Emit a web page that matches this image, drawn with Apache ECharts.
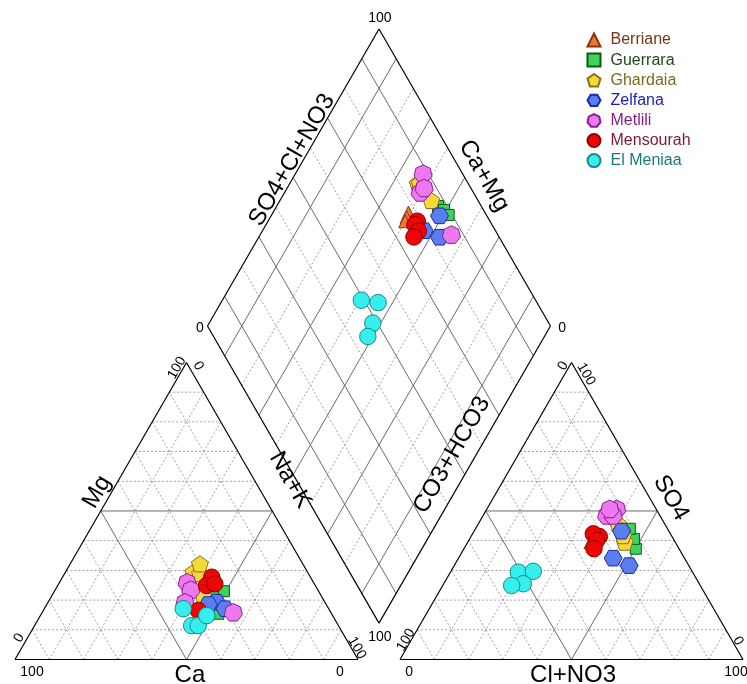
<!DOCTYPE html>
<html><head><meta charset="utf-8">
<script src="https://cdn.jsdelivr.net/npm/echarts@6/dist/echarts.min.js"></script>
<style>html,body{margin:0;padding:0;background:#fff}#c{width:747px;height:684px}</style>
</head><body><div id="c"></div>
<script>
// Site names (legend order)
const sites = ['Berriane', 'Guerrara', 'Ghardaia', 'Zelfana', 'Metlili', 'Mensourah', 'El Meniaa'];
// Each row: [Ca, Mg, Na+K, CO3+HCO3, SO4, Cl+NO3]  (% meq/L)
const berriane = [
  [36.0, 24.5, 39.5, 22.3, 41.5, 36.2],
  [36.5, 23.8, 39.7, 23.6, 40.5, 35.9],
  [37.0, 23.0, 40.0, 24.7, 39.5, 35.8]
];
const guerrara = [
  [31.5, 21.5, 47.0, 12.6, 37.3, 50.1],
  [27.6, 23.0, 49.4, 11.5, 40.6, 47.9],
  [33.0, 15.4, 51.6, 11.0, 44.0, 45.0]
];
const ghardaia = [
  [33.3, 29.4, 37.3, 14.7, 39.5, 45.8],
  [31.6, 28.9, 39.5, 13.6, 45.7, 40.7],
  [34.4, 21.5, 44.1, 13.6, 43.4, 43.0],
  [30.0, 32.2, 37.8, 14.1, 41.7, 44.2]
];
const zelfana = [
  [31.6, 19.3, 49.1, 13.8, 43.2, 43.0],
  [34.4, 18.5, 47.1, 20.8, 34.1, 45.1],
  [30.2, 17.1, 52.7, 17.4, 31.6, 51.0]
];
const metlili = [
  [36.8, 26.0, 37.2, 11.5, 50.7, 37.8],
  [37.0, 23.5, 39.5, 15.5, 48.5, 36.0],
  [40.8, 19.3, 39.9, 13.6, 48.5, 37.9],
  [28.4, 15.9, 55.7, 13.5, 50.7, 35.8]
];
const mensourah = [
  [28.8, 27.7, 43.5, 21.2, 41.4, 37.4],
  [31.7, 24.9, 43.4, 22.5, 42.3, 35.2],
  [29.0, 25.5, 45.5, 22.6, 40.1, 37.3],
  [38.3, 16.5, 45.2, 24.8, 37.3, 37.9]
];
const elMeniaa = [
  [42.4, 17.1, 40.5, 50.8, 29.4, 19.8],
  [42.8, 11.4, 45.8, 46.3, 29.7, 24.0],
  [40.9, 11.4, 47.7, 51.3, 25.5, 23.2],
  [36.7, 14.8, 48.5, 55.0, 24.9, 20.1]
];
const siteData = [berriane, guerrara, ghardaia, zelfana, metlili, mensourah, elMeniaa];
// Axis tick labels and axis titles
const tickLo = '0';
const tickHi = '100';
const axisTitles = ['Ca', 'Mg', 'Na+K', 'Cl+NO3', 'CO3+HCO3', 'SO4', 'SO4+Cl+NO3', 'Ca+Mg'];

// ---- geometry (Piper layout) ----
const S = 100, GAP = 12.24, R3 = Math.sqrt(3) / 2;
const H0 = GAP * R3;
const W = 2 * S + GAP, H = H0 + 2 * S * R3;
function cat(ca, mg, nak) { return [nak + mg / 2, mg * R3]; }
function an(hco3, so4, cl) { return [S + GAP + cl + so4 / 2, so4 * R3]; }
function dia(camg, so4cl) { return [S + GAP / 2 + (so4cl - camg) / 2, H0 + R3 * (camg + so4cl)]; }

// styles
const styles = [
  { symbol: 'triangle', size: 13, fill: '#f2762e', border: '#8a3410', text: '#7a3418' },
  { symbol: 'rect', size: 11, fill: '#3dd35c', border: '#0b5a14', text: '#1c4a1c' },
  { symbol: 'path://M0,-10 L9.51,-3.09 L5.88,8.09 L-5.88,8.09 L-9.51,-3.09 Z', size: 17, fill: '#f6d83a', border: '#8a7212', text: '#7a6a1e' },
  { symbol: 'path://M10,0 L5,8.66 L-5,8.66 L-10,0 L-5,-8.66 L5,-8.66 Z', size: 18, fill: '#5a7ef0', border: '#1a2aa8', text: '#1c1cb4' },
  { symbol: 'path://M0,-10 L7.82,-6.23 L9.75,2.23 L4.34,9.01 L-4.34,9.01 L-9.75,2.23 L-7.82,-6.23 Z', size: 18, fill: '#ee78ee', border: '#8a1c9a', text: '#8a1c8a' },
  { symbol: 'circle', size: 16.5, fill: '#ee0505', border: '#8a0000', text: '#7a1a2a' },
  { symbol: 'circle', size: 16.5, fill: '#36eeee', border: '#178a8a', text: '#1a7a7a' }
];

// ---- grid line segments ----
const outer = [], solid = [], dashed = [];
function seg(arr, a, b) { arr.push([a[0], a[1], b[0], b[1]]); }
// left triangle
seg(outer, cat(100, 0, 0), cat(0, 0, 100));
seg(outer, cat(100, 0, 0), cat(0, 100, 0));
seg(outer, cat(0, 100, 0), cat(0, 0, 100));
// right triangle
seg(outer, an(100, 0, 0), an(0, 0, 100));
seg(outer, an(100, 0, 0), an(0, 100, 0));
seg(outer, an(0, 100, 0), an(0, 0, 100));
// diamond
seg(outer, dia(0, 0), dia(100, 0));
seg(outer, dia(100, 0), dia(100, 100));
seg(outer, dia(100, 100), dia(0, 100));
seg(outer, dia(0, 100), dia(0, 0));
for (let k = 10; k < 100; k += 10) {
  const tgt = k === 50 ? solid : dashed;
  // cation
  seg(tgt, cat(100 - k, k, 0), cat(0, k, 100 - k));
  seg(tgt, cat(100 - k, 0, k), cat(0, 100 - k, k));
  seg(tgt, cat(k, 0, 100 - k), cat(k, 100 - k, 0));
  // anion
  seg(tgt, an(100 - k, k, 0), an(0, k, 100 - k));
  seg(tgt, an(100 - k, 0, k), an(0, 100 - k, k));
  seg(tgt, an(k, 0, 100 - k), an(k, 100 - k, 0));
  // diamond
  const dt = (k / 10) % 2 === 1 ? solid : dashed;
  seg(dt, dia(k, 0), dia(k, 100));
  seg(dt, dia(0, k), dia(100, k));
}

function segSeries(data, style) {
  return {
    type: 'custom', silent: true, clip: false, z: 1, animation: false,
    data: data,
    renderItem: function (params, api) {
      const p1 = api.coord([api.value(0), api.value(1)]);
      const p2 = api.coord([api.value(2), api.value(3)]);
      return { type: 'line', shape: { x1: p1[0], y1: p1[1], x2: p2[0], y2: p2[1] }, style: style };
    }
  };
}

// ---- text labels: [x, y, rotationDeg, fontSize, text] ----
const texts = [
  [4.96, -3.6, 0, 14, tickHi], [94.75, -3.6, 0, 14, tickLo], [51.0, -4.6, 0, 24, axisTitles[0]],
  [1.2, 6.3, 60, 14, tickLo], [47.2, 85.0, 60, 14, tickHi], [23.9, 48.8, 60, 24, axisTitles[1]],
  [53.4, 85.6, -60, 14, tickLo], [99.7, 3.4, -60, 14, tickHi], [80.2, 52.3, -60, 24, axisTitles[2]],
  [114.9, -3.6, 0, 14, tickLo], [210.2, -3.6, 0, 14, tickHi], [162.7, -4.6, 0, 24, axisTitles[3]],
  [114.0, 5.7, 60, 14, tickHi], [159.8, 85.6, 60, 14, tickLo], [127.4, 59.6, 60, 24, axisTitles[4]],
  [166.5, 83.2, -60, 14, tickHi], [210.8, 5.4, -60, 14, tickLo], [191.25, 47.1, -60, 24, axisTitles[5]],
  [106.4, 187.0, 0, 14, tickHi], [53.9, 96.6, 0, 14, tickLo], [159.5, 96.6, 0, 14, tickLo], [106.4, 6.6, 0, 14, tickHi],
  [80.8, 145.6, 60, 24, axisTitles[6]], [136.7, 141.0, -60, 24, axisTitles[7]]
];
const textSeries = {
  type: 'custom', silent: true, clip: false, z: 5, animation: false,
  data: texts.map(t => [t[0], t[1], t[2], t[3]]),
  renderItem: function (params, api) {
    const p = api.coord([api.value(0), api.value(1)]);
    const t = texts[params.dataIndex];
    return {
      type: 'text', x: p[0], y: p[1], rotation: t[2] * Math.PI / 180,
      style: { text: t[4], fontSize: t[3], fontFamily: 'Liberation Sans, Arial, sans-serif', fill: '#000', align: 'center', verticalAlign: 'middle' }
    };
  }
};

const scatterSeries = sites.map((name, i) => {
  const st = styles[i];
  const pts = [];
  siteData[i].forEach(r => {
    pts.push(cat(r[0], r[1], r[2]));
    pts.push(an(r[3], r[4], r[5]));
    pts.push(dia(r[0] + r[1], r[4] + r[5]));
  });
  return {
    name: name, type: 'scatter', data: pts, symbol: st.symbol, symbolSize: st.size, symbolKeepAspect: true,
    z: 3, animation: false,
    itemStyle: { color: st.fill, borderColor: st.border, borderWidth: 1, opacity: 1 }
  };
});

const chart = echarts.init(document.getElementById('c'), null, { renderer: 'canvas' });
chart.setOption({
  backgroundColor: '#fff',
  animation: false,
  grid: { left: 15, top: 29, width: 728, height: 630.5 },
  xAxis: { type: 'value', min: 0, max: W, show: false },
  yAxis: { type: 'value', min: 0, max: H, show: false },
  legend: {
    orient: 'vertical', left: 581.5, top: 27, padding: 5, itemWidth: 13, itemHeight: 13, itemGap: 4.1,
    selectedMode: false,
    textStyle: { fontSize: 16, fontFamily: 'Liberation Sans, Arial, sans-serif', padding: [0, 0, 0, 5], lineHeight: 13 },
    data: sites.map((n, i) => ({ name: n, textStyle: { color: styles[i].text } }))
  },
  series: [
    segSeries(dashed, { stroke: '#8a8a8a', lineWidth: 0.8, lineDash: [2, 2] }),
    segSeries(solid, { stroke: '#6a6a6a', lineWidth: 1 }),
    segSeries(outer, { stroke: '#000', lineWidth: 1.2 }),
    textSeries
  ].concat(scatterSeries)
});
</script>
</body></html>
